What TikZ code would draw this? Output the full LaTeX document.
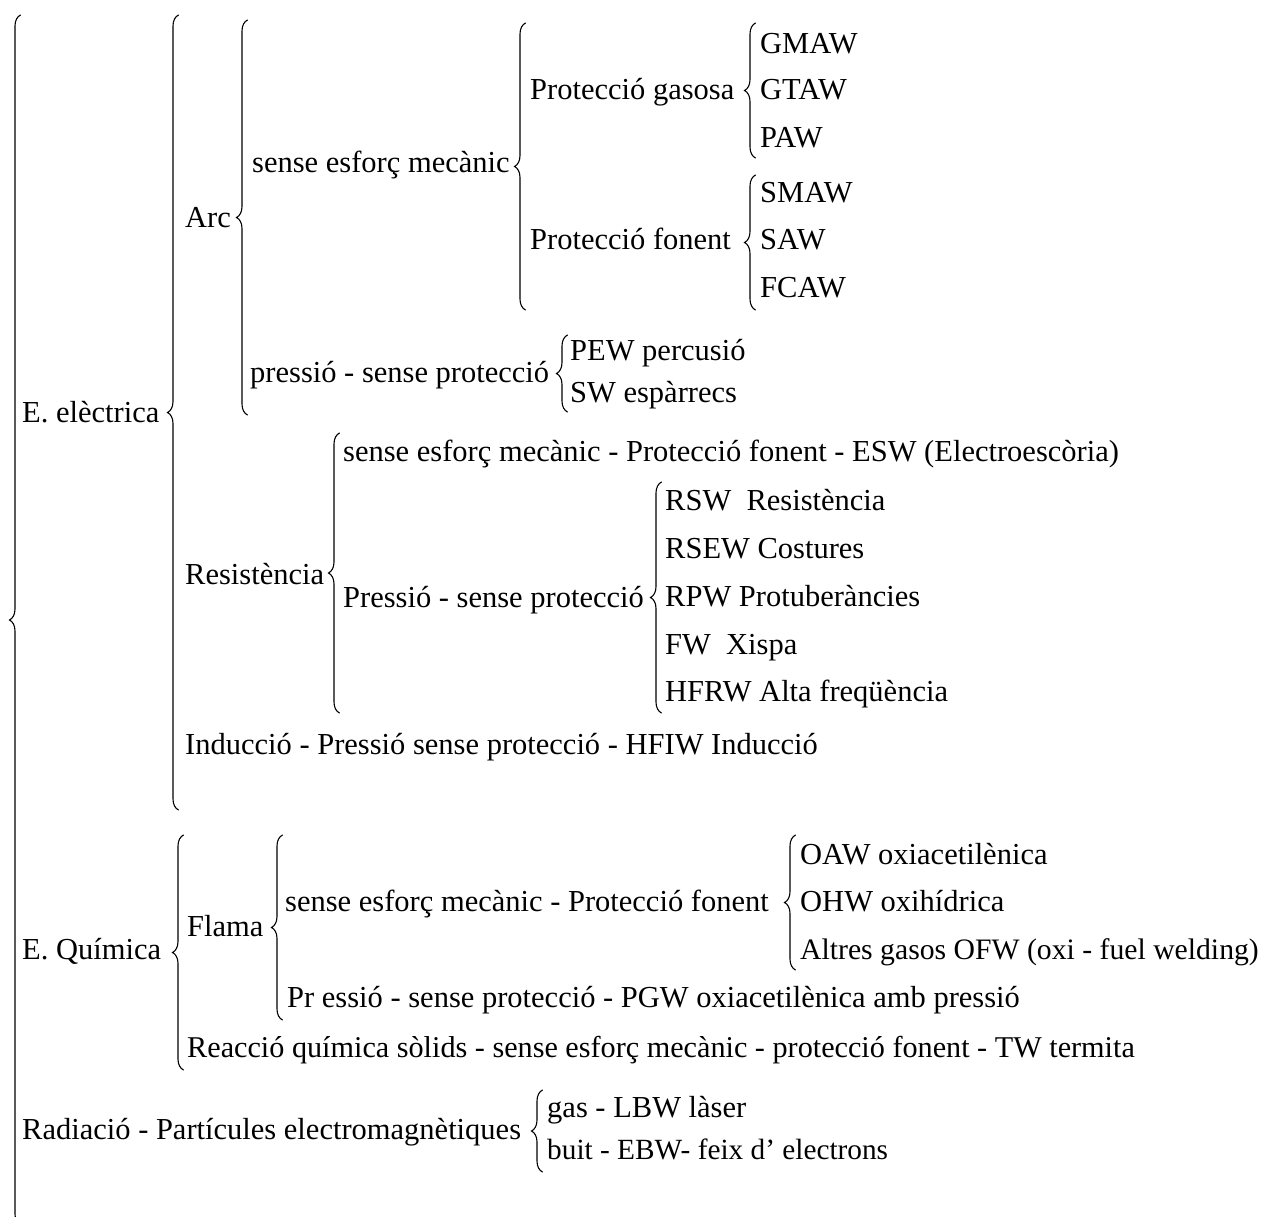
\documentclass[tikz,border=0pt]{standalone}
\usepackage{fontspec}
\setmainfont{Liberation Serif}
\usetikzlibrary{decorations.pathreplacing}
\tikzset{
  lab/.style={anchor=base west, inner sep=0pt, font=\fontsize{30.5}{33}\selectfont},
  labs/.style={lab, font=\fontsize{#1}{33}\selectfont},
  br/.style={decorate, decoration={brace, amplitude=11pt}, line width=1.1pt, line cap=round}
}
\begin{document}
\begin{tikzpicture}[x=1pt, y=-1pt]
\useasboundingbox (0,0) rectangle (1265,1216);
\begin{scope}
\clip (0,0) rectangle (1265,1216);
% braces (x of line + 5.5, bottom, top)
\draw[br] (20.5,1225) -- (20.5,15);     % outer
\draw[br] (178.5,810) -- (178.5,15);    % E. electrica
\draw[br] (247.5,415) -- (247.5,20);    % Arc
\draw[br] (525.5,310) -- (525.5,23);    % sense esforc
\draw[br] (755.5,158) -- (755.5,23);    % gasosa
\draw[br] (755.5,310) -- (755.5,175);   % fonent
\draw[br] (567.5,412) -- (567.5,335);   % pressio
\draw[br] (339.5,713) -- (339.5,433);   % Resistencia
\draw[br] (661.5,713) -- (661.5,482);   % Pressio RSW
\draw[br] (183.5,1070) -- (183.5,835);  % E. Quimica
\draw[br] (282.5,1020) -- (282.5,835);  % Flama
\draw[br] (795.5,970) -- (795.5,835);   % OAW
\draw[br] (542.5,1172) -- (542.5,1090); % Radiacio
\end{scope}
% labels (baseline = centre + 9)
\node[lab] (eel) at (22,422) {E. elèctrica};
\node[lab] (arc) at (185,227) {Arc};
\node[lab] (sem1) at (252,172) {sense esforç mecànic};
\node[lab] (pgas) at (530,99) {Protecció gasosa};
\node[lab] (gmaw) at (760,53) {GMAW};
\node[lab] (gtaw) at (760,99) {GTAW};
\node[lab] (paw) at (760,147) {PAW};
\node[lab] (pfon) at (530,249) {Protecció fonent};
\node[lab] (smaw) at (760,202) {SMAW};
\node[lab] (saw) at (760,249) {SAW};
\node[lab] (fcaw) at (760,297) {FCAW};
\node[lab] (pres1) at (250,382) {pressió - sense protecció};
\node[lab] (pew) at (570,360) {PEW percusió};
\node[lab] (sw) at (570,402) {SW espàrrecs};
\node[lab] (res) at (185,584) {Resistència};
\node[lab] (esw) at (343,461) {sense esforç mecànic - Protecció fonent - ESW (Electroescòria)};
\node[lab] (pres2) at (343,607) {Pressió - sense protecció};
\node[lab] (rsw) at (665,510) {RSW\ \ Resistència};
\node[lab] (rsew) at (665,558) {RSEW Costures};
\node[lab] (rpw) at (665,606) {RPW Protuberàncies};
\node[lab] (fw) at (665,654) {FW\ \ Xispa};
\node[lab] (hfrw) at (665,701) {HFRW Alta freqüència};
\node[lab] (ind) at (185,754) {Inducció - Pressió sense protecció - HFIW Inducció};
\node[lab] (equ) at (22,959) {E. Química};
\node[lab] (flama) at (187,936) {Flama};
\node[lab] (sem2) at (285,911) {sense esforç mecànic - Protecció fonent};
\node[lab] (oaw) at (800,864) {OAW oxiacetilènica};
\node[lab] (ohw) at (800,911) {OHW oxihídrica};
\node[labs=29.7] (altres) at (800,959) {Altres gasos OFW (oxi - fuel welding)};
\node[lab] (pgw) at (287,1007) {Pr essió - sense protecció - PGW oxiacetilènica amb pressió};
\node[labs=30.2] (reac) at (187,1057) {Reacció química sòlids - sense esforç mecànic - protecció fonent - TW termita};
\node[lab] (rad) at (22,1139) {Radiació - Partícules electromagnètiques};
\node[lab] (gas) at (547,1117) {gas - LBW làser};
\node[labs=29.3] (buit) at (547,1159) {buit - EBW- feix d' electrons};
\end{tikzpicture}
\end{document}
